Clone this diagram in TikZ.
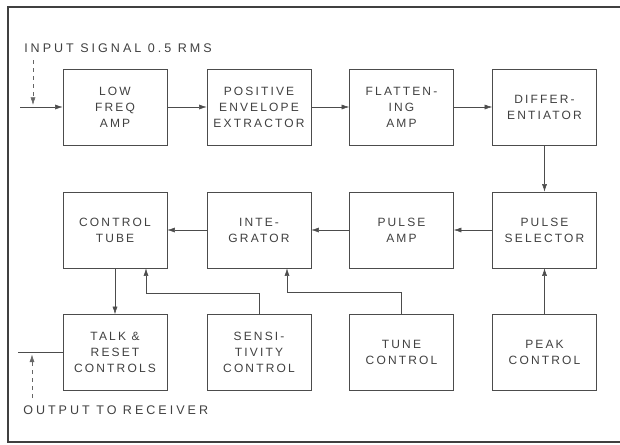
\documentclass[tikz,border=0pt]{standalone}
\usepackage{fontspec}
\setmainfont{Liberation Sans}[LetterSpace=18]
\usepackage{tikz}
\usetikzlibrary{arrows.meta,calc,positioning}
\tikzset{
    blk box/.style={
        draw,
        draw=black!70,
        minimum width=78pt,
        minimum height=57pt,
        align=center,
        text=black!75,
        font=\fontsize{9}{12}\selectfont
    },
    blk label/.style={
        anchor=west,
        text=black!75,
        inner sep=0pt,
        font=\fontsize{9.4}{12}\selectfont\addfontfeatures{LetterSpace=24}
    },
    sig arrow/.style={-{Latex[length=2mm,width=1.3mm]}, draw=black!70, thin},
    sig line/.style={draw=black!70, thin},
    sig hint/.style={-{Latex[length=2mm,width=1.3mm]}, draw=black!60, thin, dashed},
    frame line/.style={draw=black!75, line width=1.2pt}
}
\begin{document}
\begin{tikzpicture}[x=0.75pt,y=-0.75pt]
    \useasboundingbox (0,0) rectangle (620,444);
    \draw[frame line] (620,7) -- (8,7) -- (8,442) -- (620,442);

    % first row
    \node[blk box] (lfa) at (115,107) {LOW\\FREQ\\AMP};
    \node[blk box] (env) at (259,107) {POSITIVE\\ENVELOPE\\EXTRACTOR};
    \node[blk box] (flat) at (401.5,107) {FLATTEN-\\ING\\AMP};
    \node[blk box] (diff) at (544.5,107) {DIFFER-\\ENTIATOR};

    % second row
    \node[blk box] (ctl) at (115,230) {CONTROL\\TUBE};
    \node[blk box] (intg) at (259,230) {INTE-\\GRATOR};
    \node[blk box] (pamp) at (401.5,230) {PULSE\\AMP};
    \node[blk box] (psel) at (544.5,230) {PULSE\\SELECTOR};

    % third row
    \node[blk box] (trc) at (115,352.5) {TALK \&\\RESET\\CONTROLS};
    \node[blk box] (sens) at (259,352.5) {SENSI-\\TIVITY\\CONTROL};
    \node[blk box] (tune) at (401.5,352.5) {TUNE\\CONTROL};
    \node[blk box] (peak) at (544.5,352.5) {PEAK\\CONTROL};

    \node[blk label] (inlbl) at (24,48) {INPUT SIGNAL 0.5 RMS};
    \node[blk label] (outlbl) at (23,410) {OUTPUT TO RECEIVER};

    \coordinate (inL) at (20,107);
    \coordinate (inTop) at (33,60);
    \coordinate (inTip) at (33,105);
    \coordinate (outL) at (18,352.5);
    \coordinate (outBot) at (32,398);
    \coordinate (outTip) at (32,354.5);
    \coordinate (sensbend) at (146,293);
    \coordinate (tunebend) at (287,292);

    \draw[sig arrow] (inL) -- (lfa);
    \draw[sig hint] (inTop) -- (inTip);
    \draw[sig arrow] (lfa) -- (env);
    \draw[sig arrow] (env) -- (flat);
    \draw[sig arrow] (flat) -- (diff);
    \draw[sig arrow] (diff) -- (psel);
    \draw[sig arrow] (psel) -- (pamp);
    \draw[sig arrow] (pamp) -- (intg);
    \draw[sig arrow] (intg) -- (ctl);
    \draw[sig arrow] (ctl) -- (trc);
    \draw[sig arrow] (peak) -- (psel);
    \draw[sig arrow] (sens.north) |- (sensbend) -- (sensbend |- ctl.south);
    \draw[sig arrow] (tune.north) |- (tunebend) -- (tunebend |- intg.south);
    \draw[sig line] (trc.west) -- (outL);
    \draw[sig hint] (outBot) -- (outTip);
\end{tikzpicture}
\end{document}
